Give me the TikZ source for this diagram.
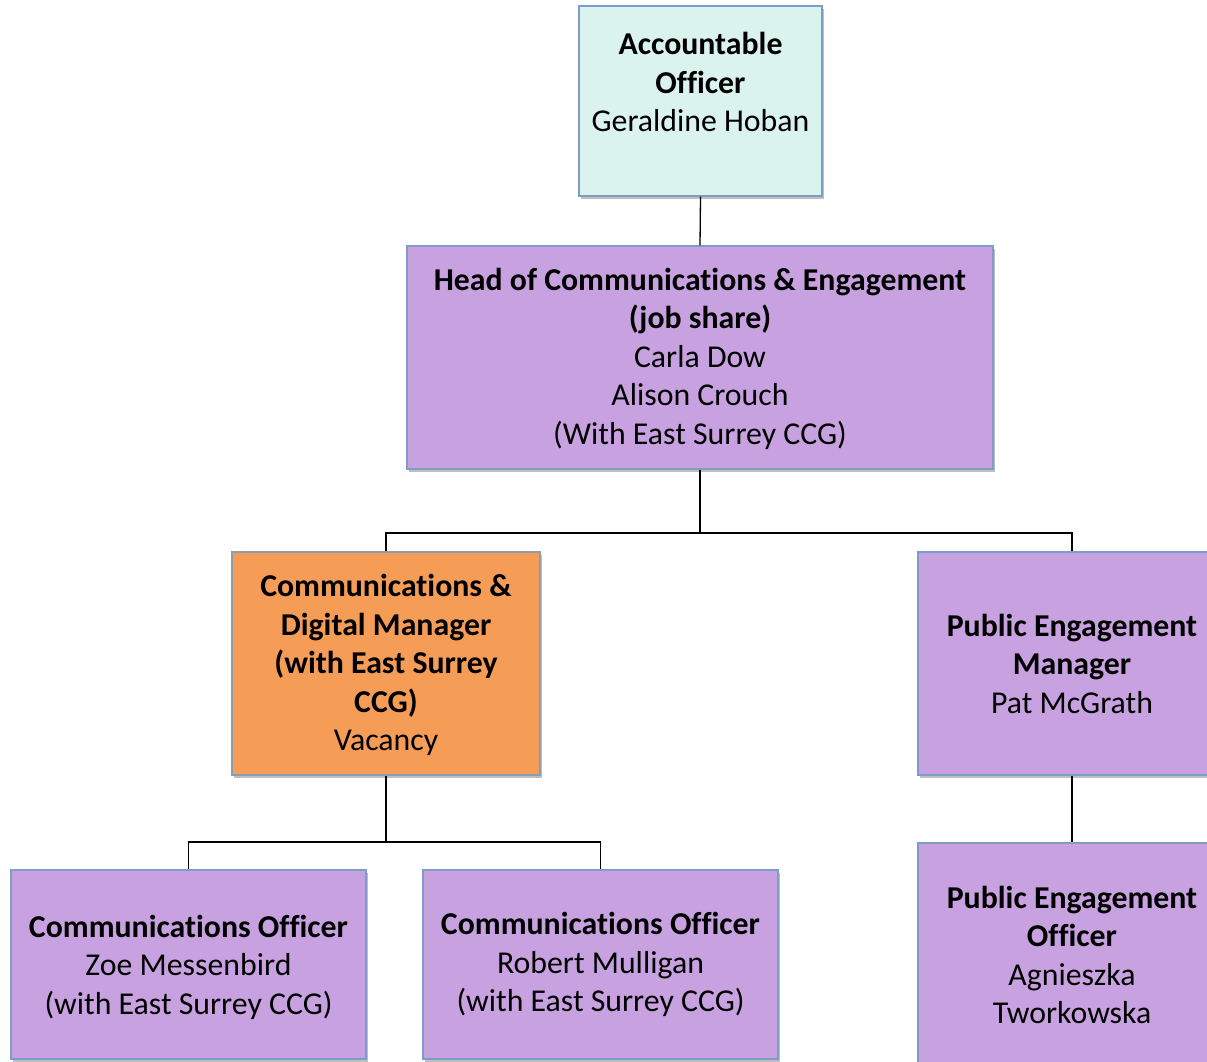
\documentclass[tikz,border=0pt]{standalone}
\usepackage{fontspec}
\setmainfont{Carlito}[Ligatures=NoCommon]
\usetikzlibrary{shadows}
\definecolor{aofill}{HTML}{DAF3EC}
\definecolor{purp}{HTML}{C8A2E0}
\definecolor{orng}{HTML}{F59D56}
\definecolor{bord}{HTML}{7C9CC9}
\definecolor{bordo}{HTML}{8E9CB0}
\tikzset{
  box/.style={draw=bord, line width=1.2pt, inner sep=0pt, align=center,
    font=\fontsize{31.8}{38.5}\selectfont,
    drop shadow={shadow xshift=2pt, shadow yshift=-3pt, opacity=0.25, fill=black}},
  link/.style={draw=black, line width=1.3pt}
}
\begin{document}
\begin{tikzpicture}[x=1pt,y=-1pt]
\clip (0,0) rectangle (1207,1061);
\fill[white] (0,0) rectangle (1207,1061);
\node[box, fill=aofill, minimum width=243pt, minimum height=190pt] (ao) at (700.5,101)
  {\textbf{Accountable}\\\textbf{Officer}\\Geraldine Hoban\\[-12pt]\strut};
\node[box, fill=purp, minimum width=586pt, minimum height=223pt] (head) at (700,357.5)
  {\textbf{Head of Communications \& Engagement}\\\textbf{(job share)}\\Carla Dow\\Alison Crouch\\(With East Surrey CCG)\\[-36pt]\mbox{}};
\node[box, fill=orng, draw=bordo, minimum width=308pt, minimum height=223pt] (cdm) at (386,663.5)
  {\textbf{Communications \&}\\\textbf{Digital Manager}\\\textbf{(with East Surrey}\\\textbf{CCG)}\\Vacancy\\[-37pt]\mbox{}};
\node[box, fill=purp, minimum width=308pt, minimum height=223pt] (pem) at (1072,663.5)
  {\textbf{Public Engagement}\\\textbf{Manager}\\Pat McGrath};
\node[box, fill=purp, minimum width=308pt, minimum height=224pt] (peo) at (1072,955)
  {\textbf{Public Engagement}\\\textbf{Officer}\\Agnieszka\\Tworkowska};
\node[box, fill=purp, minimum width=355pt, minimum height=189pt] (co1) at (188.5,964.5)
  {\textbf{Communications Officer}\\Zoe Messenbird\\(with East Surrey CCG)\\[-39pt]\mbox{}};
\node[box, fill=purp, minimum width=355pt, minimum height=189pt] (co2) at (600.5,964.5)
  {\textbf{Communications Officer}\\Robert Mulligan\\(with East Surrey CCG)};
\coordinate (j1) at (700,533);
\coordinate (j2) at (386,842);
\draw[link] (ao.south) -- (head.north);
\draw[link] (head.south) -- (j1);
\draw[link] (cdm.north) |- (j1) -| (pem.north);
\draw[link] (cdm.south) -- (j2);
\draw[link] (co1.north) |- (j2) -| (co2.north);
\draw[link] (pem.south) -- (peo.north);
\end{tikzpicture}
\end{document}
